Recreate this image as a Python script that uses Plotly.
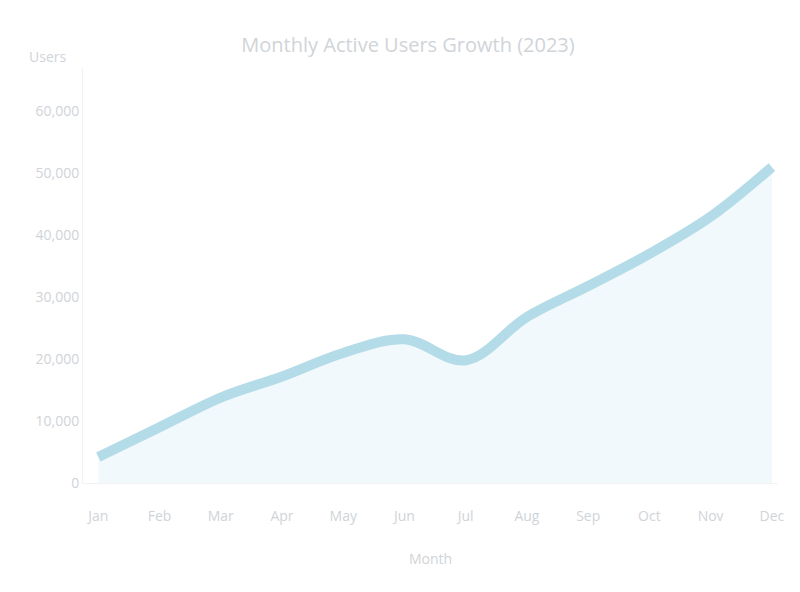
import plotly.graph_objects as go

months = ["Jan", "Feb", "Mar", "Apr", "May", "Jun",
          "Jul", "Aug", "Sep", "Oct", "Nov", "Dec"]
users = [4200, 9000, 13800, 17200, 21000, 23200, 19800, 26800, 31800, 37000, 43000, 51000]

fig = go.Figure()
fig.add_trace(go.Scatter(
    x=months, y=users,
    mode="lines",
    line=dict(color="#b4dbe8", width=10, shape="spline"),
    fill="tozeroy",
    fillcolor="rgba(214,238,245,0.35)",
    name="Users",
))

fig.update_layout(
    width=800, height=592,
    title=dict(text="Monthly Active Users Growth (2023)", x=0.5, y=0.95,
               font=dict(size=20, color="#d0d4d8")),
    font=dict(family="Open Sans", size=14, color="#d0d4d8"),
    paper_bgcolor="white", plot_bgcolor="white",
    margin=dict(l=75, r=30, t=60, b=117),
    showlegend=False,
    xaxis=dict(showgrid=False, showline=True, linecolor="#f2f2f2",
               range=[-0.25, 11.1], ticks="", ticklabelstandoff=20,
               title=dict(text="Month", font=dict(size=14), standoff=30)),
    yaxis=dict(showgrid=False, showline=True, linecolor="#f2f2f2",
               range=[0, 67000], dtick=10000, tickformat=",", ticks="",
               showticklabels=True),
    annotations=[dict(text="Users", xref="paper", yref="paper", x=-0.08, y=1.0,
                      xanchor="left", yanchor="bottom", showarrow=False,
                      font=dict(size=14, color="#d0d4d8"))],
)

fig.write_html("out.html")
